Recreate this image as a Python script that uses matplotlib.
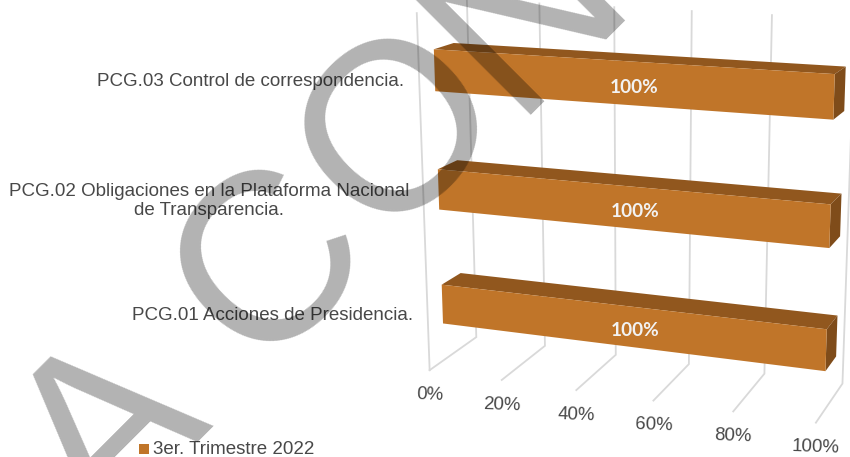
import matplotlib
matplotlib.use('Agg')
import matplotlib.pyplot as plt
import numpy as np

plt.rcParams['font.family'] = ['Liberation Sans', 'DejaVu Sans']

categories = ['PCG.01 Acciones de Presidencia.',
              'PCG.02 Obligaciones en la Plataforma Nacional\nde Transparencia.',
              'PCG.03 Control de correspondencia.']
values = [100, 100, 100]
ticks = [0, 20, 40, 60, 80, 100]
series_name = '3er. Trimestre 2022'
watermark_letters = ['A', 'C', 'O', 'N']

FRONT = '#C07529'
TOP = '#91571E'
SIDE = '#7F4C1A'
GRID = '#D9D9D9'
TEXT = '#484848'

# 3d box of the chart seen on screen: (value, height, depth) -> pixel
# height 0-1 is the category axis, depth 0 front / 1 back wall
anchors = [
    ((0, 0, 1), (476, 337)), ((20, 0, 1), (545, 346)), ((40, 0, 1), (616, 355)),
    ((60, 0, 1), (689, 364)), ((80, 0, 1), (764, 373)), ((100, 0, 1), (843, 384)),
    ((0, 0, 0), (430, 370)), ((20, 0, 0), (502, 380)), ((40, 0, 0), (576, 390)),
    ((60, 0, 0), (653, 401)), ((80, 0, 0), (733, 412)), ((100, 0, 0), (816, 422)),
    ((0, 1, 1), (467, 0)), ((20, 1, 1), (539, 3)), ((40, 1, 1), (614, 7)),
    ((60, 1, 1), (692, 12)), ((80, 1, 1), (772, 15)), ((100, 1, 1), (855, 19)),
    ((0, 1, 0), (417, 13)),
]


def fit_camera(pairs):
    rows = []
    for (v, h, d), (x, y) in pairs:
        p = [v / 100, h, d, 1]
        rows.append(p + [0, 0, 0, 0] + [-x / 850 * c for c in p])
        rows.append([0, 0, 0, 0] + p + [-y / 457 * c for c in p])
    return np.linalg.svd(np.array(rows))[2][-1].reshape(3, 4)


CAM = fit_camera(anchors)


def project(v, h, d):
    q = CAM @ np.array([v / 100, h, d, 1])
    return q[0] / q[2] * 850, q[1] / q[2] * 457


def face(ax, corners, color):
    ax.fill(*zip(*[project(*c) for c in corners]), color=color, lw=0, zorder=3)


fig = plt.figure(figsize=(8.5, 4.57), dpi=100)
ax = fig.add_axes([0, 0, 1, 1])
ax.set_xlim(0, 850)
ax.set_ylim(457, 0)
ax.axis('off')

# gridlines on floor and back wall
for t in ticks:
    pts = [project(t, 0, 0), project(t, 0, 1), project(t, 1, 1)]
    ax.plot(*zip(*pts), color=GRID, lw=1.3, zorder=1, solid_joinstyle='miter')
    x, y = project(t, 0, 0)
    ax.text(x, y + 25, f'{t}%', ha='center', va='center', fontsize=13.4,
            color=TEXT, rotation=-2)
ax.plot(*zip(project(0, 0, 0), project(0, 1, 0)), color=GRID, lw=1.3, zorder=1)

# bars
n = len(categories)
bar_h = 0.115
d0, d1 = 0.3, 0.7
label_right = [413, 409, 404]
for i, (name, val) in enumerate(zip(categories, values)):
    c = (i + 0.5) / n
    lo, hi = c - bar_h / 2, c + bar_h / 2
    face(ax, [(0, hi, d0), (val, hi, d0), (val, hi, d1), (0, hi, d1)], TOP)
    face(ax, [(val, lo, d0), (val, hi, d0), (val, hi, d1), (val, lo, d1)], SIDE)
    face(ax, [(0, lo, d0), (val, lo, d0), (val, hi, d0), (0, hi, d0)], FRONT)
    x, y = project(val / 2, c, d0)
    ax.text(x + 9, y + 4.5, f'{val}%', ha='center', va='center', fontsize=13.7, fontweight='bold',
            family=['Lato', 'DejaVu Sans'], color='#F2F2F2', zorder=4)
    ylab = project(0, c, d0)[1] + 11.5
    ax.text(label_right[i], ylab, name, ha='right', va='center', multialignment='center',
            fontsize=13.5, color=TEXT, zorder=4, linespacing=1.1)

# legend
ax.fill([139, 149, 149, 139], [444, 444, 454, 454], color=FRONT, lw=0)
ax.text(153, 450, series_name, ha='left', va='center', fontsize=13.5, color=TEXT)

# watermark crossing the chart
wm_xy = [(102, 538), (256, 371), (381, 242), (511, 115)]
for letter, (x, y) in zip(watermark_letters, wm_xy):
    ax.text(x, y, letter, rotation=45, rotation_mode='anchor', ha='left', va='baseline',
            fontsize=172, color=(0, 0, 0, 0.3), zorder=5, clip_on=True)

fig.savefig('out.png', dpi=100)
